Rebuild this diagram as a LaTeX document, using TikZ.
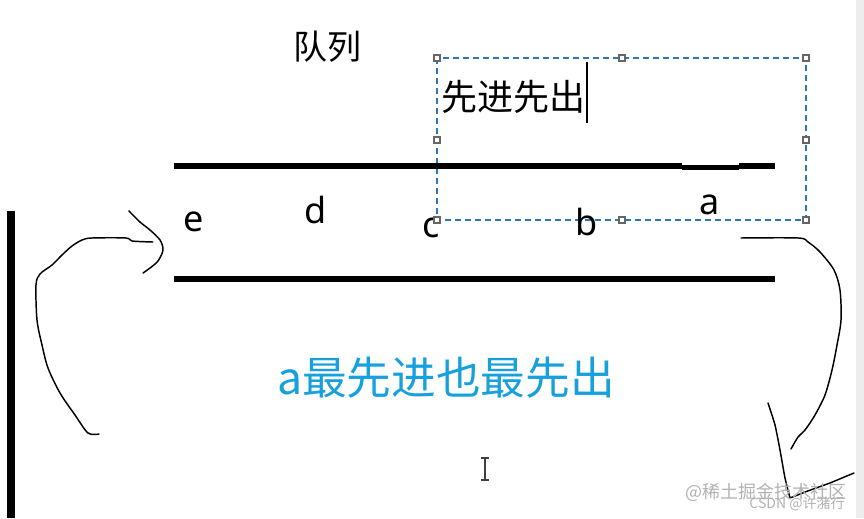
\documentclass[tikz,border=0pt]{standalone}
\usepackage{fontspec}
\setmainfont{Noto Sans}
\newfontfamily\cjk{Noto Sans CJK SC}
\begin{document}
\begin{tikzpicture}[x=0.75pt,y=-0.75pt,
  bar/.style={line width=5pt,black},
  letter/.style={font=\fontsize{27}{29}\selectfont,inner sep=0pt,anchor=center},
  cjktxt/.style={font=\cjk\fontsize{25.5}{28}\selectfont,inner sep=0pt},
  hand/.style={line width=1.1pt,black,line join=round,line cap=round},
  selbox/.style={draw=selblue,line width=0.9pt,dash pattern=on 4.5pt off 3pt},
  handle/.style={draw=gray!80!black,fill=white,line width=0.8pt,minimum size=4.5pt,inner sep=0pt,rectangle},
  wm/.style={text=gray!60,inner sep=0pt}]
\definecolor{selblue}{RGB}{45,120,175}
\definecolor{txtblue}{RGB}{22,160,222}
\useasboundingbox (0,0) rectangle (864,518);
\fill[white] (0,0) rectangle (864,518);
\fill[black!7] (856,0) rectangle (864,518);

% title
\node[cjktxt] (title) at (327,47) {队列};

% selection box with text
\node[cjktxt,anchor=west,font=\cjk\fontsize{27}{30}\selectfont] (fifo) at (441,97) {先进先出};
\draw[line width=0.9pt] (587,62) -- (587,123);
\coordinate (b1) at (437,58);
\coordinate (b2) at (806,220);
\draw[selbox] (b1) rectangle (b2);

% queue walls
\draw[bar] (174,166) -- (682,166);
\draw[line width=3.8pt] (682,167.6) -- (739,167.6);
\draw[bar] (739,166) -- (775,166);
\draw[bar] (174,279) -- (775,279);
\draw[line width=6pt] (11,211) -- (11,518);

% elements
\node[letter] (e) at (194,222) {e};
\node[letter] (d) at (316,210) {d};
\node[letter] (c) at (431,228) {c};
\node[letter] (b) at (587,222) {b};
\node[letter] (a) at (710,205) {a};

% handles (drawn over the dashed box)
\foreach \p in {(437,58),(622,58),(806,58),(437,140),(806,140),(437,220),(622,220),(806,220)}
  \node[handle] at \p {};

% left hand-drawn arrow (enqueue)
\draw[hand] plot[smooth,tension=0.5] coordinates {(99,434) (88,433) (75,415) (60,393) (48,368) (42,345) (37,320) (36,285) (40,274) (52,265) (62,255) (72,246) (82,240) (92,238) (126,238) (132,241) (153,242)};
\draw[hand] plot[smooth,tension=0.5] coordinates {(129,211) (140,222) (150,230) (160,240) (163,250) (158,261) (150,268) (143,273)};

% right hand-drawn arrow (dequeue)
\draw[hand] plot[smooth,tension=0.5] coordinates {(741,238) (798,238) (808,242) (820,252) (834,270) (840,290) (841,320) (837,345) (832,370) (825,395) (815,415) (805,430) (798,437) (791,449)};
\draw[hand] plot[smooth,tension=0.4] coordinates {(768,403) (775,425) (780,450) (785,478) (790,498)} -- (805,492) -- (830,483) -- (854,473);

% blue caption
\node[font=\cjk\fontsize{33.5}{37}\selectfont,text=txtblue,inner sep=0pt] (cap) at (446,378) {a最先进也最先出};

% text cursor
\draw[black!75,line width=0.9pt] (485,458) -- (485,480) (481,458) -- (489,458) (481,480) -- (489,480);

% watermarks
\node[wm,font=\cjk\fontsize{13.5}{15}\selectfont] (wm1) at (766,492) {@稀土掘金技术社区};
\node[wm,font=\cjk\fontsize{10.5}{12}\selectfont] (wm2) at (797,504) {CSDN @许潴行};
\end{tikzpicture}
\end{document}
